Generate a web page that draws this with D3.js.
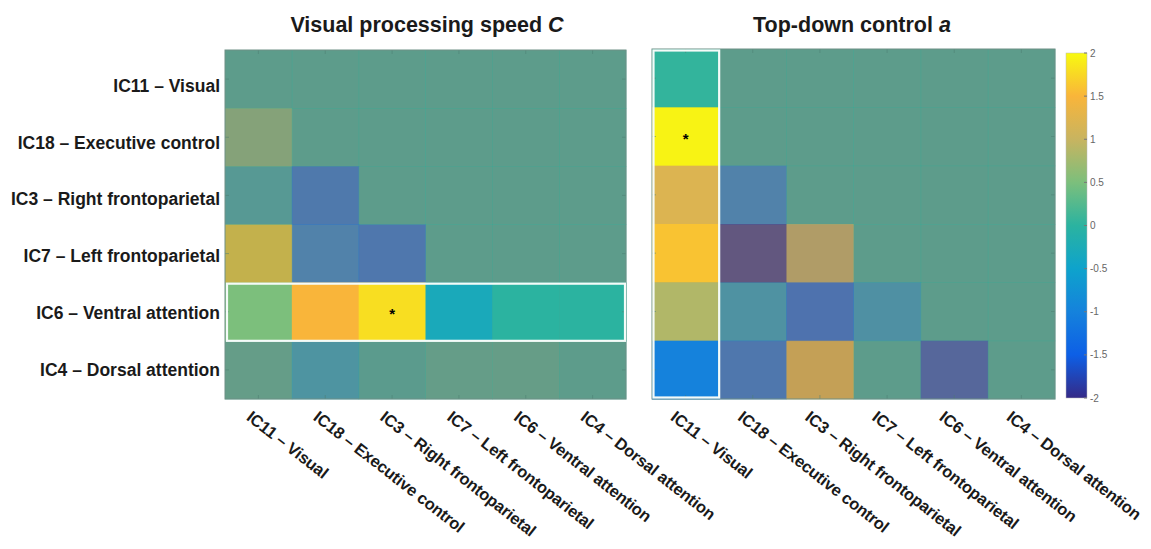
<!DOCTYPE html>
<html>
<head>
<meta charset="utf-8">
<script src="https://cdn.jsdelivr.net/npm/d3@7"></script>
<style>
  body { margin: 0; background: #fff; }
  text { font-family: "Liberation Sans", Arial, sans-serif; }
</style>
</head>
<body>
<div id="chart"></div>
<script>
// network names (rows and columns share the same order)
var networks = ["IC11 \u2013 Visual", "IC18 \u2013 Executive control", "IC3 \u2013 Right frontoparietal",
  "IC7 \u2013 Left frontoparietal", "IC6 \u2013 Ventral attention", "IC4 \u2013 Dorsal attention"];

// Visual processing speed C  (null = masked cell)
var speedValues = [
  [null, null, null, null, null, null],
  [0.5, null, null, null, null, null],
  [-0.2, -1.3, null, null, null, null],
  [1.8, -1.05, -1.35, null, null, null],
  [0.5, 1.5, 1.8, -0.3, 0.0, 0.0],
  [0.1, -0.5, -0.05, 0.1, 0.12, 0.0]
];
// Top-down control a
var controlValues = [
  [0.05, null, null, null, null, null],
  [1.95, null, null, null, null, null],
  [1.2, -1.05, null, null, null, null],
  [1.6, -2.0, 1.1, null, null, null],
  [0.85, -0.55, -1.5, -0.6, null, null],
  [-1.0, -1.35, 1.55, 0.0, -1.7, 0.0]
];
var speedHighlightRow = 4;     // IC6 row
var controlHighlightCol = 0;   // IC11 column
var speedStars = [[4, 2]];
var controlStars = [[1, 0]];

var colorTicks = [2, 1.5, 1, 0.5, 0, -0.5, -1, -1.5, -2];
var parulaStops = ["#352a87", "#0d5fe6", "#1582dc", "#0ea3cc", "#2bb3a0", "#7cbf7c", "#c8b460", "#f9b53a", "#f8fa10"];

var W = 1151, H = 549;
var svg = d3.select("#chart").append("svg").attr("width", W).attr("height", H);

var color = d3.scaleLinear()
  .domain(d3.range(9).map(function(i){ return -2 + i * 0.5; }))
  .range(parulaStops)
  .clamp(true);

var mutedBg = "#8f8577";

function drawPanel(opt){
  var g = svg.append("g");
  var x = d3.scaleBand().domain(d3.range(6)).range([opt.x0, opt.x1]);
  var y = d3.scaleBand().domain(d3.range(6)).range([opt.y0, opt.y1]);

  // underlay for the faded (non-highlighted) cells
  g.append("rect").attr("x", opt.x0).attr("y", opt.y0)
    .attr("width", opt.x1 - opt.x0).attr("height", opt.y1 - opt.y0)
    .attr("fill", mutedBg);

  var cells = [];
  opt.values.forEach(function(row, r){
    row.forEach(function(v, c){
      cells.push({r: r, c: c, v: v, hi: opt.isHi(r, c)});
    });
  });

  g.selectAll("rect.cell").data(cells).enter().append("rect")
    .attr("class", "cell")
    .attr("x", function(d){ return x(d.c); })
    .attr("y", function(d){ return y(d.r); })
    .attr("width", x.bandwidth() + 0.5)
    .attr("height", y.bandwidth() + 0.5)
    .attr("fill", function(d){ return color(d.v === null ? 0 : d.v); })
    .attr("fill-opacity", function(d){ return d.hi ? 1 : 0.5; });

  // axis ticks (inside, matlab style)
  var tk = g.append("g").attr("stroke", "#4d7f72").attr("stroke-width", 1).attr("opacity", 0.5);
  d3.range(6).forEach(function(i){
    var cx = x(i) + x.bandwidth() / 2, cy = y(i) + y.bandwidth() / 2;
    tk.append("line").attr("x1", cx).attr("x2", cx).attr("y1", opt.y0).attr("y2", opt.y0 + 4);
    tk.append("line").attr("x1", cx).attr("x2", cx).attr("y1", opt.y1).attr("y2", opt.y1 - 4);
    tk.append("line").attr("x1", opt.x0).attr("x2", opt.x0 + 4).attr("y1", cy).attr("y2", cy);
    tk.append("line").attr("x1", opt.x1).attr("x2", opt.x1 - 4).attr("y1", cy).attr("y2", cy);
  });
  g.append("rect").attr("x", opt.x0).attr("y", opt.y0)
    .attr("width", opt.x1 - opt.x0).attr("height", opt.y1 - opt.y0)
    .attr("fill", "none").attr("stroke", "#6f8f86").attr("stroke-width", 1);

  // highlight box
  var hb = opt.hiBox(x, y);
  g.append("rect").attr("x", hb.x).attr("y", hb.y).attr("width", hb.w).attr("height", hb.h)
    .attr("fill", "none").attr("stroke", "#f4fbf8").attr("stroke-width", 2.2);

  // significance stars
  g.selectAll("text.star").data(opt.stars).enter().append("text")
    .attr("class", "star")
    .attr("x", function(d){ return x(d[1]) + x.bandwidth() / 2; })
    .attr("y", function(d){ return y(d[0]) + y.bandwidth() / 2 + 7; })
    .attr("text-anchor", "middle")
    .style("font-size", "15px").style("font-weight", "bold")
    .text("*");

  // y labels (sit slightly below row centres near the top, as in the original)
  if (opt.yLabels) {
    var ly = d3.scalePoint().domain(d3.range(6)).range([86, 369.5]);
    g.selectAll("text.ylab").data(networks).enter().append("text")
      .attr("class", "ylab")
      .attr("x", opt.x0 - 5)
      .attr("y", function(d, i){ return ly(i) + 6; })
      .attr("text-anchor", "end")
      .style("font-size", "17.5px").style("font-weight", "bold").attr("fill", "#1a1a1a")
      .text(function(d){ return d; });
  }

  // x labels, rotated
  g.selectAll("text.xlab").data(networks).enter().append("text")
    .attr("class", "xlab")
    .attr("transform", function(d, i){
      return "translate(" + (x(i) + x.bandwidth() / 2 - opt.xLabShift) + "," + (opt.y1 + 20) + ") rotate(38)";
    })
    .attr("text-anchor", "start")
    .style("font-size", "16.5px").style("font-weight", "bold").style("letter-spacing", "-0.2px")
    .attr("fill", "#1a1a1a")
    .text(function(d){ return d; });

  // title
  var t = svg.append("text")
    .attr("x", opt.titleX).attr("y", 32)
    .attr("text-anchor", "middle")
    .style("font-size", "21.5px").style("font-weight", "bold").attr("fill", "#1a1a1a");
  t.append("tspan").text(opt.title + " ");
  t.append("tspan").style("font-style", "italic").text(opt.titleVar);
}

drawPanel({
  x0: 225, x1: 626, y0: 50, y1: 399,
  values: speedValues,
  isHi: function(r, c){ return r === speedHighlightRow; },
  hiBox: function(x, y){
    return {x: x(0) + 2, y: y(speedHighlightRow) + 1, w: x.bandwidth() * 6 - 3, h: y.bandwidth() - 1};
  },
  stars: speedStars,
  yLabels: true,
  xLabShift: 13,
  titleX: 427,
  title: "Visual processing speed", titleVar: "C"
});

drawPanel({
  x0: 652, x1: 1055, y0: 49, y1: 399,
  values: controlValues,
  isHi: function(r, c){ return c === controlHighlightCol; },
  hiBox: function(x, y){
    return {x: x(controlHighlightCol) + 1.5, y: y(0) + 1.5, w: x.bandwidth() - 1.5, h: y.bandwidth() * 6 - 3};
  },
  stars: controlStars,
  yLabels: false,
  xLabShift: 16,
  titleX: 852,
  title: "Top-down control", titleVar: "a"
});

// colorbar
var cb = {x: 1066, w: 21, y0: 53, y1: 398};
var defs = svg.append("defs");
var grad = defs.append("linearGradient").attr("id", "parula")
  .attr("x1", 0).attr("x2", 0).attr("y1", 1).attr("y2", 0);
parulaStops.forEach(function(c, i){
  grad.append("stop").attr("offset", (i / (parulaStops.length - 1) * 100) + "%").attr("stop-color", c);
});
svg.append("rect").attr("x", cb.x).attr("y", cb.y0).attr("width", cb.w).attr("height", cb.y1 - cb.y0)
  .attr("fill", "url(#parula)").attr("stroke", "#bbb").attr("stroke-width", 0.5);

var cy = d3.scaleLinear().domain([-2, 2]).range([cb.y1, cb.y0]);
var cbAxis = svg.append("g");
cbAxis.selectAll("line").data(colorTicks).enter().append("line")
  .attr("x1", cb.x + cb.w - 3).attr("x2", cb.x + cb.w)
  .attr("y1", function(d){ return cy(d); }).attr("y2", function(d){ return cy(d); })
  .attr("stroke", "#777");
cbAxis.selectAll("text").data(colorTicks).enter().append("text")
  .attr("x", cb.x + cb.w + 3)
  .attr("y", function(d){ return cy(d) + 3.5; })
  .style("font-size", "10px").attr("fill", "#666")
  .text(function(d){ return d; });
</script>
</body>
</html>
